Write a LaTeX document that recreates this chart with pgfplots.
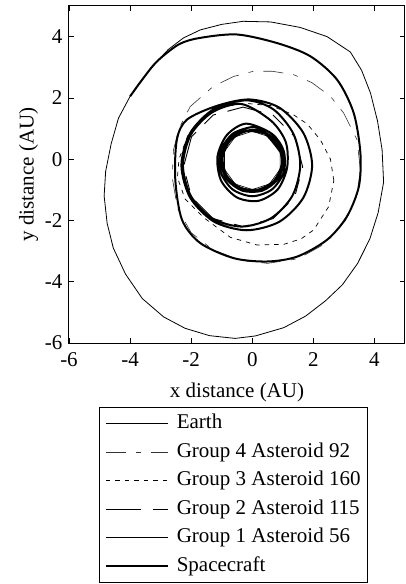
\documentclass[border=0pt]{standalone}
\usepackage{fontspec}
\setmainfont{Liberation Serif}
\usepackage{pgfplots}
\pgfplotsset{compat=1.18}
\begin{document}
\begin{tikzpicture}
\begin{axis}[
  scale only axis, width=336pt, height=337pt,
  xmin=-6, xmax=5, ymin=-6, ymax=5,
  xtick={-6,-4,-2,0,2,4}, ytick={-6,-4,-2,0,2,4},
  xticklabels={-6,-4,-2,0,2,4}, yticklabels={-6,-4,-2,0,2,4},
  tick align=inside, major tick length=5pt,
  axis line style={line width=1pt},
  every tick/.style={black, line width=0.8pt},
  tick label style={font=\fontsize{21}{25}\selectfont},
  yticklabel style={xshift=-3pt},
  xticklabel style={yshift=-6pt},
  label style={font=\fontsize{21}{25}\selectfont},
  xlabel style={yshift=-9pt},
  xlabel={x distance (AU)}, ylabel={y distance (AU)},
  legend style={at={(0.49,-0.19)}, anchor=north, draw=black, line width=1pt,
    font=\fontsize{21}{25}\selectfont, inner xsep=5pt, inner ysep=4pt, row sep=4.5pt,
    /tikz/column sep=6pt,
    nodes={inner sep=2pt, text height=15pt, text depth=5pt}},
  legend cell align=left,
  legend image code/.code={\draw[#1] (0pt,0pt) -- (62pt,0pt);},
]
% Earth
\addplot[black, line width=0.6pt] coordinates {
(0,0.91) (-0.56,0.73) (-0.91,0.25) (-0.91,-0.33) (-0.56,-0.81) (0,-0.99) (0.56,-0.81) (0.91,-0.33) (0.91,0.25) (0.56,0.73) (0,0.91)};
\addlegendentry{Earth}
% Group 4 Asteroid 92
\addplot[black!80, line width=0.6pt, dash pattern=on 20pt off 10pt on 5pt off 10pt] coordinates {
(3.54,-0.35) (3.43,0.63) (2.99,1.51) (2.56,2.05) (1.95,2.5) (1.35,2.76) (0.65,2.87) (0.04,2.87) (-0.61,2.70) (-1.27,2.38) (-2.03,1.72) (-2.4,1.0) (-2.58,0.3) (-2.62,-0.6) (-2.45,-1.6) (-2.0,-2.4) (-1.3,-2.95) (-0.4,-3.3) (0.5,-3.4) (1.5,-3.25) (2.4,-2.75) (3.05,-2.0) (3.42,-1.2) (3.54,-0.35)};
\addlegendentry{Group 4 Asteroid 92}
% Group 3 Asteroid 160
\addplot[black, line width=0.7pt, dash pattern=on 4.5pt off 5pt] coordinates {
(2.67,-0.7) (2.56,0.0) (2.23,0.63) (1.8,1.15) (1.35,1.45) (0.6,1.75) (-0.2,1.82) (-0.9,1.72) (-1.6,1.4) (-2.1,0.8) (-2.4,0.0) (-2.45,-0.6) (-2.2,-1.3) (-1.6,-1.9) (-0.72,-2.55) (0.15,-2.8) (1.03,-2.78) (1.6,-2.6) (2.01,-2.31) (2.5,-1.55) (2.67,-0.7)};
\addlegendentry{Group 3 Asteroid 160}
% Group 2 Asteroid 115
\addplot[black, line width=0.9pt, dash pattern=on 35pt off 12pt on 15pt off 12pt] coordinates {
(1.65,-0.25) (1.39,0.73) (0.68,1.44) (-0.3,1.70) (-1.28,1.44) (-1.99,0.73) (-2.25,-0.25) (-1.99,-1.23) (-1.28,-1.94) (-0.3,-2.2) (0.68,-1.94) (1.39,-1.23) (1.65,-0.25)};
\addlegendentry{Group 2 Asteroid 115}
% Group 1 Asteroid 56
\addplot[black, line width=0.8pt] coordinates {
(4.30,-0.75) (4.25,0.31) (4.10,1.25) (3.87,2.16) (3.58,2.90) (3.21,3.50) (2.45,4.00) (1.57,4.30) (0.60,4.48) (-0.30,4.50) (-1.00,4.40) (-1.70,4.22) (-2.25,3.96) (-2.75,3.58) (-3.12,3.19) (-3.60,2.62) (-4.00,2.05) (-4.38,1.34) (-4.62,0.50) (-4.80,-0.40) (-4.85,-1.20) (-4.75,-2.10) (-4.55,-2.90) (-4.15,-3.75) (-3.60,-4.55) (-2.90,-5.15) (-2.20,-5.52) (-1.40,-5.76) (-0.56,-5.85) (0.10,-5.77) (1.03,-5.50) (1.75,-5.12) (2.40,-4.62) (2.95,-4.10) (3.45,-3.40) (3.85,-2.60) (4.12,-1.75) (4.30,-0.75)};
\addlegendentry{Group 1 Asteroid 56}
% Spacecraft
\addplot[black, line width=2pt, line join=round, smooth, tension=0.5] coordinates {
(0.91,0.25) (0.39,0.85)
(-0.20,0.91) (-0.72,0.61) (-0.97,0.06) (-0.84,-0.53) (-0.39,-0.93) (0.20,-0.99) (0.72,-0.69) (0.97,-0.14) (0.84,0.45) (0.39,0.85)
(0,0.96) (-0.59,0.77) (-0.95,0.27) (-0.95,-0.35) (-0.59,-0.85) (0,-1.04) (0.59,-0.85) (0.95,-0.35) (0.95,0.27) (0.59,0.77)
(-0.32,0.93) (-0.83,0.56) (-1.03,-0.05) (-0.83,-0.66) (-0.32,-1.03) (0.32,-1.03) (0.83,-0.66) (1.03,-0.05) (0.83,0.56) (0.32,0.93)
(0,1.05) (-0.64,0.83) (-1.03,0.27) (-1.03,-0.43) (-0.64,-0.99) (0,-1.21) (0.64,-0.99) (1.03,-0.43) (1.03,0.27) (0.64,0.83)
(-0.20,1.16) (-0.83,0.79) (-1.14,0.08) (-1.02,-0.70) (-0.50,-1.25) (0.20,-1.36) (0.83,-0.99) (1.14,-0.28) (1.10,0.55) (0.62,1.25)
(-0.35,1.80) (-1.31,1.53) (-2.01,0.80) (-2.27,-0.2) (-2.01,-1.2) (-1.31,-1.93) (-0.35,-2.2) (0.61,-1.93) (1.31,-1.2) (1.57,-0.2) (1.35,0.82) (0.70,1.62)
(-0.18,1.92) (-1.25,1.64) (-2.03,0.86) (-2.32,-0.2) (-2.03,-1.26) (-1.25,-2.04) (-0.18,-2.32) (0.89,-2.04) (1.67,-1.26) (1.96,-0.2) (1.67,0.86) (0.89,1.68)
(-0.10,1.95) (-1.16,1.74) (-2.14,1.29) (-2.47,0.63) (-2.52,-0.67) (-2.30,-1.98) (-1.70,-2.74) (-0.61,-3.23) (0.48,-3.34) (1.47,-3.18) (2.45,-2.63) (3.10,-1.87) (3.49,-0.89) (3.54,0.2) (3.32,1.51) (2.78,2.59) (1.90,3.36) (0.81,3.79) (-0.5,4.07) (-1.70,3.96) (-2.4,3.75) (-3.12,3.19) (-3.6,2.6) (-4.0,2.05)};
\addlegendentry{Spacecraft}
\end{axis}
\pgfresetboundingbox
\path ([xshift=-69pt,yshift=-241pt]current axis.south west) rectangle ([xshift=0.5pt,yshift=6pt]current axis.north east);
\end{tikzpicture}
\end{document}
